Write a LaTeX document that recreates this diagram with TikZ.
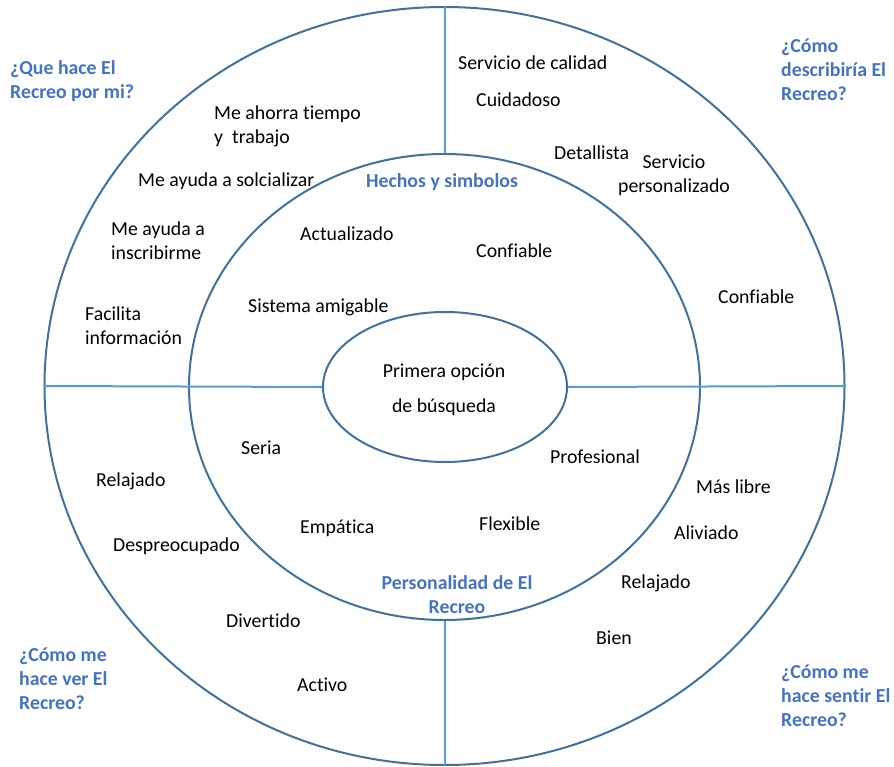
\documentclass[tikz,border=0pt]{standalone}
\usepackage{fontspec}
\setmainfont{Carlito}[Ligatures=NoCommon]
\usetikzlibrary{shapes.geometric}

\definecolor{ringblue}{HTML}{41719C}
\definecolor{lineblue}{HTML}{5B9BD5}
\definecolor{labelblue}{HTML}{4472C4}

\begin{document}
\begin{tikzpicture}[x=1pt, y=-1pt,
  ring/.style={draw=ringblue, line width=2pt, ellipse, inner sep=0pt},
  split/.style={draw=lineblue, line width=2pt},
  item/.style={anchor=west, align=left, inner sep=0pt, font=\fontsize{19.8}{24}\selectfont},
  question/.style={item, text=labelblue, font=\fontsize{19.8}{24}\selectfont\bfseries},
  topic/.style={anchor=center, align=center, inner sep=0pt, text=labelblue, font=\fontsize{19.8}{24}\selectfont\bfseries}
]
\useasboundingbox (0,0) rectangle (894,767);

\node[ring, minimum width=800pt, minimum height=758pt] (outer) at (444.5,386) {};
\node[ring, minimum width=511pt, minimum height=466pt] (middle) at (444.5,387) {};
\node[ring, minimum width=244pt, minimum height=150pt] (inner) at (445,387) {};

% lineas que dividen los cuadrantes
\draw[split] (outer.north) -- (middle.north);
\draw[split] (middle.south) -- (outer.south);
\draw[split] (outer.west) -- (inner.west);
\draw[split] (inner.east) -- (outer.east);

% preguntas de cada cuadrante
\node[question] (q1) at (10,81) {¿Que hace El\\Recreo por mi?};
\node[question] (q2) at (781,70) {¿Cómo\\describiría El\\Recreo?};
\node[question] (q3) at (19,679) {¿Cómo me\\hace ver El\\Recreo?};
\node[question] (q4) at (781,696) {¿Cómo me\\hace sentir El\\Recreo?};

\node[topic] (hechos) at (442,182) {Hechos y simbolos};
\node[topic] (perso) at (457,595) {Personalidad de El\\Recreo};

\node[anchor=center, align=center, inner sep=0pt, font=\fontsize{19.8}{35}\selectfont] (first) at (444,390) {Primera opción\\de búsqueda};

% que hace por mi
\node[item] (ahorra) at (214,126) {Me ahorra tiempo\\y\ \ trabajo};
\node[item] (social) at (138,181) {Me ayuda a solcializar};
\node[item] (inscr) at (111,241) {Me ayuda a\\inscribirme};
\node[item] (facil) at (85,326) {Facilita\\información};

% como lo describiria
\node[item] (calidad) at (458,63) {Servicio de calidad};
\node[item] (cuida) at (476,100) {Cuidadoso};
\node[item] (detalle) at (554,153) {Detallista};
\node[item, anchor=center, align=center] (perso2) at (674,175) {Servicio\\personalizado};
\node[item] (conf1) at (718,297) {Confiable};

% hechos y simbolos
\node[item] (actual) at (300,234) {Actualizado};
\node[item] (conf2) at (476,251) {Confiable};
\node[item] (sistema) at (248,307) {Sistema amigable};

% personalidad
\node[item] (seria) at (241,448) {Seria};
\node[item] (prof) at (550,457) {Profesional};
\node[item] (empat) at (300,528) {Empática};
\node[item] (flex) at (479,524) {Flexible};

% como me hace ver
\node[item] (relaj1) at (96,481) {Relajado};
\node[item] (despre) at (113,546) {Despreocupado};
\node[item] (divert) at (226,621) {Divertido};
\node[item] (activo) at (297,685) {Activo};

% como me hace sentir
\node[item] (libre) at (696,487) {Más libre};
\node[item] (alivio) at (674,533) {Aliviado};
\node[item] (relaj2) at (621,583) {Relajado};
\node[item] (bien) at (596,638) {Bien};

\end{tikzpicture}
\end{document}
